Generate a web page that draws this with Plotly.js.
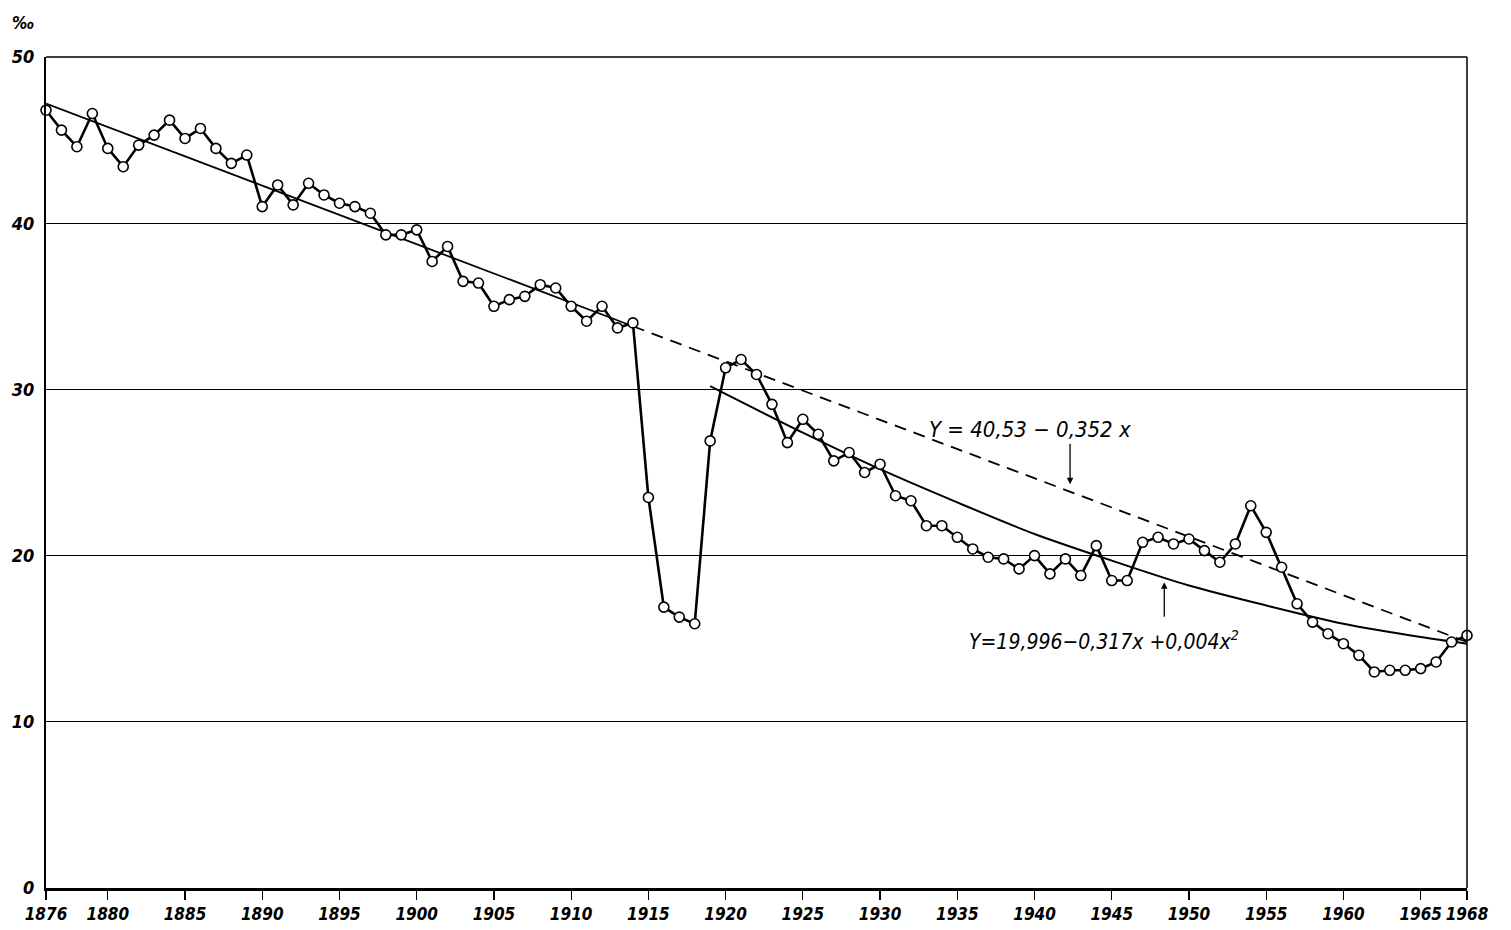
<!DOCTYPE html>
<html>
<head>
<meta charset="utf-8">
<script src="https://cdn.plot.ly/plotly-3.0.1.min.js"></script>
<style>html,body{margin:0;padding:0;background:#fff;}#chart{width:1511px;height:930px;}</style>
</head>
<body>
<div id="chart"></div>
<script>
// Birth rate (per mille), yearly values 1876–1968
const years = [];
for (let y = 1876; y <= 1968; y++) years.push(y);
const rates = [
  46.8, 45.6, 44.6, 46.6, 44.5, 43.4, 44.7, 45.3, 46.2, 45.1,   // 1876-1885
  45.7, 44.5, 43.6, 44.1, 41.0, 42.3, 41.1, 42.4, 41.7, 41.2,   // 1886-1895
  41.0, 40.6, 39.3, 39.3, 39.6, 37.7, 38.6, 36.5, 36.4, 35.0,   // 1896-1905
  35.4, 35.6, 36.3, 36.1, 35.0, 34.1, 35.0, 33.7, 34.0, 23.5,   // 1906-1915
  16.9, 16.3, 15.9, 26.9, 31.3, 31.8, 30.9, 29.1, 26.8, 28.2,   // 1916-1925
  27.3, 25.7, 26.2, 25.0, 25.5, 23.6, 23.3, 21.8, 21.8, 21.1,   // 1926-1935
  20.4, 19.9, 19.8, 19.2, 20.0, 18.9, 19.8, 18.8, 20.6, 18.5,   // 1936-1945
  18.5, 20.8, 21.1, 20.7, 21.0, 20.3, 19.6, 20.7, 23.0, 21.4,   // 1946-1955
  19.3, 17.1, 16.0, 15.3, 14.7, 14.0, 13.0, 13.1, 13.1, 13.2,   // 1956-1965
  13.6, 14.8, 15.2                                              // 1966-1968
];

// Linear trend line: solid part and dashed extension
const linSolidYears = [1876, 1914];
const linSolidValues = [47.2, 33.8];
const linDashYears = [1914, 1968];
const linDashValues = [33.8, 14.8];

// Quadratic trend curve
const quadYears = [1919, 1925, 1930, 1935, 1940, 1945, 1950, 1955, 1960, 1965, 1968];
const quadValues = [30.2, 27.4, 25.2, 23.2, 21.3, 19.7, 18.2, 17.0, 15.9, 15.1, 14.7];

const xTicks = [1876, 1880, 1885, 1890, 1895, 1900, 1905, 1910, 1915, 1920, 1925, 1930, 1935, 1940, 1945, 1950, 1955, 1960, 1965, 1968];
const yTicks = [0, 10, 20, 30, 40, 50];

const labelLin = 'Y = 40,53 − 0,352 x';
const labelQuad = 'Y=19,996−0,317x +0,004x<sup>2</sup>';

const FONT = 'DejaVu Sans Condensed, Liberation Sans Narrow, Arial Narrow, sans-serif';

const traces = [
  {x: linSolidYears, y: linSolidValues, mode: 'lines', line: {color: '#000', width: 1.8}, hoverinfo: 'skip'},
  {x: linDashYears, y: linDashValues, mode: 'lines', line: {color: '#000', width: 1.8, dash: '12px,8px'}, hoverinfo: 'skip'},
  {x: quadYears, y: quadValues, mode: 'lines', line: {color: '#000', width: 2, shape: 'spline', smoothing: 0.8}, hoverinfo: 'skip'},
  {x: years, y: rates, mode: 'lines+markers', cliponaxis: false,
   line: {color: '#000', width: 2.6},
   marker: {symbol: 'circle', size: 10, color: '#fff', line: {color: '#000', width: 1.6}}}
];

const layout = {
  width: 1511, height: 930,
  margin: {l: 46, r: 44, t: 57, b: 42},
  paper_bgcolor: '#fff', plot_bgcolor: '#fff',
  showlegend: false,
  font: {family: FONT, color: '#000'},
  xaxis: {
    range: [1876, 1968], tickmode: 'array', tickvals: xTicks, ticktext: xTicks.map(String),
    ticks: 'outside', ticklen: 9, tickwidth: 1.2, tickcolor: '#000', tickangle: 0,
    showline: true, linecolor: '#000', linewidth: 3, showgrid: false, zeroline: false,
    tickfont: {family: FONT, size: 17, color: '#000', style: 'italic', weight: 'bold'}
  },
  yaxis: {
    range: [0, 50], tickmode: 'array', tickvals: yTicks, ticktext: yTicks.map(String),
    ticks: '', showline: true, linecolor: '#000', linewidth: 2, ticklabelstandoff: 6,
    showgrid: true, gridcolor: '#000', gridwidth: 1, zeroline: false,
    tickfont: {family: FONT, size: 18, color: '#000', style: 'italic', weight: 'bold'}
  },
  shapes: [
    {type: 'line', xref: 'paper', yref: 'paper', x0: 0, x1: 1, y0: 1, y1: 1, line: {color: '#000', width: 1.5}},
    {type: 'line', xref: 'paper', yref: 'paper', x0: 1, x1: 1, y0: 0, y1: 1, line: {color: '#000', width: 1.5}}
  ],
  annotations: [
    {xref: 'paper', yref: 'paper', x: -0.016, y: 1.027, xanchor: 'center', yanchor: 'bottom', showarrow: false,
     text: '‰', font: {family: FONT, size: 17, color: '#000', style: 'italic', weight: 'bold'}},
    {x: 1939.7, y: 27.6, xref: 'x', yref: 'y', showarrow: false, text: labelLin,
     font: {family: FONT, size: 22, color: '#000', style: 'italic'}},
    {x: 1942.3, y: 24.3, xref: 'x', yref: 'y', showarrow: true, text: '', ax: 0, ay: -42,
     arrowhead: 2, arrowsize: 1, arrowwidth: 1.3, arrowcolor: '#000'},
    {x: 1944.5, y: 14.9, xref: 'x', yref: 'y', showarrow: false, text: labelQuad,
     font: {family: FONT, size: 21, color: '#000', style: 'italic'}},
    {x: 1948.4, y: 18.4, xref: 'x', yref: 'y', showarrow: true, text: '', ax: 0, ay: 36,
     arrowhead: 2, arrowsize: 1, arrowwidth: 1.3, arrowcolor: '#000'}
  ]
};

Plotly.newPlot('chart', traces, layout, {displayModeBar: false, staticPlot: true});
</script>
</body>
</html>
